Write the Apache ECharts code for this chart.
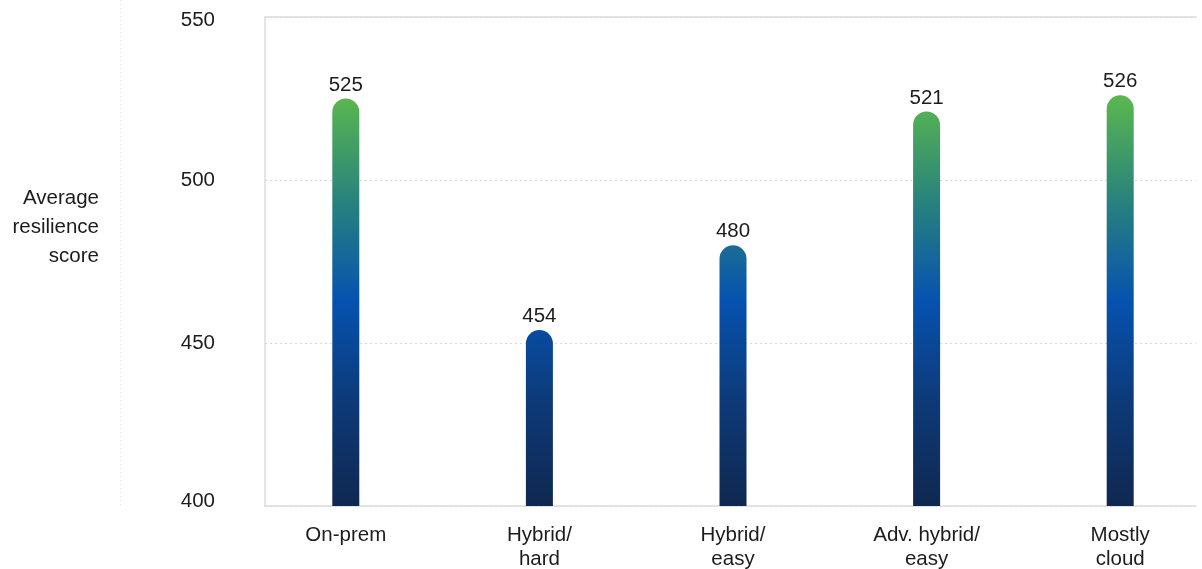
<!DOCTYPE html>
<html>
<head>
<meta charset="utf-8">
<style>
  html, body { margin: 0; padding: 0; background: #ffffff; }
  #chart { width: 1202px; height: 569px; }
</style>
<script src="https://cdn.jsdelivr.net/npm/echarts@6/dist/echarts.min.js"></script>
</head>
<body>
<div id="chart"></div>
<script>
// Average resilience score by infrastructure model
const categories = ['On-prem', 'Hybrid/\nhard', 'Hybrid/\neasy', 'Adv. hybrid/\neasy', 'Mostly\ncloud'];
const scores = [525, 454, 480, 521, 526];
const yMin = 400;
const yMax = 550;
const yStep = 50;
const yTitle = 'Average\nresilience\nscore';

// colour ramp along the score scale (score -> colour)
const rampScores = [550, 525, 492, 463, 432, 400];
const rampColors = ['#5dbd4b', '#59b64f', '#26807f', '#0652b0', '#0d3a78', '#0f2850'];

const FONT = '"Liberation Sans", Arial, Helvetica, sans-serif';
const FS = 20.5;
const TEXT = '#1c1c1c';
const FRAME = '#dcdcdc';

const plotTop = 17;
const plotBottom = 63;
const H = 569;

const chart = echarts.init(document.getElementById('chart'), null, { renderer: 'canvas' });

const span = yMax - yMin;
const gradient = new echarts.graphic.LinearGradient(
  0, plotTop, 0, H - plotBottom,
  rampScores.map((v, i) => ({ offset: (yMax - v) / span, color: rampColors[i] })),
  true
);

chart.setOption({
  animation: false,
  textStyle: { fontFamily: FONT },
  grid: [
    // bar area: category bands
    { left: 249, right: -15, top: plotTop, bottom: plotBottom, outerBoundsMode: 'none' },
    // framed plot area with the value scale
    { left: 265, right: 6, top: plotTop, bottom: plotBottom, outerBoundsMode: 'none' }
  ],
  xAxis: [
    {
      type: 'category', gridIndex: 0, data: categories,
      axisLine: { show: false }, axisTick: { show: false },
      axisLabel: { color: TEXT, fontSize: FS, lineHeight: 24, margin: 17, fontFamily: FONT, interval: 0 }
    },
    {
      type: 'value', gridIndex: 1, position: 'bottom',
      axisLine: { show: true, lineStyle: { color: FRAME, width: 1.5 } },
      axisTick: { show: false }, axisLabel: { show: false }, splitLine: { show: false }
    },
    {
      type: 'value', gridIndex: 1, position: 'top',
      axisLine: { show: true, lineStyle: { color: FRAME, width: 1.5 } },
      axisTick: { show: false }, axisLabel: { show: false }, splitLine: { show: false }
    }
  ],
  yAxis: [
    {
      type: 'value', gridIndex: 0, min: yMin, max: yMax, interval: yStep,
      show: false
    },
    {
      type: 'value', gridIndex: 1, min: yMin, max: yMax, interval: yStep,
      axisLine: { show: true, lineStyle: { color: FRAME, width: 1.5 } },
      axisTick: { show: false },
      splitLine: { show: true, lineStyle: { color: '#d8d8d8', type: [2, 3], width: 1 } },
      axisLabel: {
        color: TEXT, fontSize: FS, margin: 50, fontFamily: FONT,
        formatter: function (v) {
          if (v === yMax) return '{hi|' + v + '}';
          if (v === yMin) return '{lo|' + v + '}';
          return '{mid|' + v + '}';
        },
        rich: {
          hi: { fontSize: FS, color: TEXT, fontFamily: FONT, padding: [6, 0, 0, 0] },
          lo: { fontSize: FS, color: TEXT, fontFamily: FONT, padding: [0, 0, 10, 0] },
          mid: { fontSize: FS, color: TEXT, fontFamily: FONT }
        }
      }
    }
  ],
  graphic: [
    {
      type: 'line', z: 0,
      shape: { x1: 120.5, y1: 0, x2: 120.5, y2: H - plotBottom + 1 },
      style: { stroke: '#e2e2e2', lineWidth: 1, lineDash: [1, 3] }
    },
    {
      type: 'text', right: 1202 - 99, top: 184,
      style: {
        text: yTitle, fill: TEXT, font: FS + 'px ' + FONT,
        textAlign: 'right', lineHeight: 29
      }
    }
  ],
  series: [
    {
      type: 'bar', xAxisIndex: 0, yAxisIndex: 0,
      data: scores,
      barWidth: 27,
      itemStyle: { color: gradient, borderRadius: [14, 14, 0, 0] },
      label: {
        show: true, position: 'top', distance: 3,
        color: TEXT, fontSize: FS, fontFamily: FONT
      }
    }
  ]
});
</script>
</body>
</html>
